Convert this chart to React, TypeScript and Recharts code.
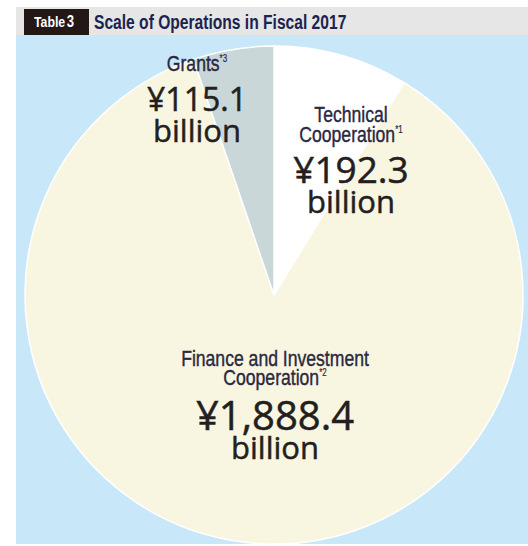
import { PieChart, Pie, Cell } from "recharts";

// values in billions of yen, clockwise from 12 o'clock
const names = ["Technical Cooperation", "Finance and Investment Cooperation", "Grants"];
const values = [192.3, 1888.4, 115.1];
const notes = ["*1", "*2", "*3"];
const amounts = ["¥192.3", "¥1,888.4", "¥115.1"];
const titleText = "Scale of Operations in Fiscal 2017";

const colors = ["#ffffff", "#f8f6e1", "#c9d7d8"];

const data = names.map((name, i) => ({ name, value: values[i], note: notes[i], amount: amounts[i] }));

// label layout, relative to the pie centre
const labelLayout: Record<string, { dx: number; lines: string[]; dy: number[]; size: number }> = {
  "Technical Cooperation": { dx: 77, lines: ["Technical", "Cooperation"], dy: [-173, -153, -112, -82], size: 37 },
  "Finance and Investment Cooperation": { dx: 1, lines: ["Finance and Investment", "Cooperation"], dy: [71, 90, 135, 164], size: 40 },
  Grants: { dx: -77, lines: ["Grants"], dy: [-224, -184, -153], size: 32 },
};

const labelFont = "'Liberation Sans', Arial, sans-serif";
const valueFont = "'Open Sans', 'Noto Sans', sans-serif";
const narrow = 0.8;

const renderLabel = (props: any) => {
  const { cx, cy, payload, name } = props;
  const key = payload?.name ?? name;
  const lay = labelLayout[key];
  if (!lay) return null;
  const x = cx + lay.dx;
  const n = lay.lines.length;
  return (
    <g>
      {lay.lines.map((ln, i) => (
        <text
          key={i}
          transform={`translate(${x} ${cy + lay.dy[i]}) scale(${narrow} 1)`}
          textAnchor="middle"
          fontFamily={labelFont}
          fontSize={22}
          fill="#2a2842"
          stroke="#2a2842"
          strokeWidth={0.4}
        >
          {ln}
          {i === n - 1 && (
            <tspan fontSize={10} dy={-9} strokeWidth={0.2}>
              {payload.note}
            </tspan>
          )}
        </text>
      ))}
      <text
        x={x}
        y={cy + lay.dy[n]}
        textAnchor="middle"
        fontFamily={valueFont}
        fontWeight={500}
        fontSize={lay.size}
        fill="#231f20"
        stroke="#231f20"
        strokeWidth={0.5}
      >
        {payload.amount}
      </text>
      <text
        x={x}
        y={cy + lay.dy[n + 1]}
        textAnchor="middle"
        fontFamily={valueFont}
        fontWeight={500}
        fontSize={31}
        fill="#231f20"
        stroke="#231f20"
        strokeWidth={0.5}
      >
        billion
      </text>
    </g>
  );
};

export default function App() {
  return (
    <div style={{ position: "absolute", left: 0, top: 0, width: 528, height: 546, background: "#ffffff" }}>
      <div style={{ position: "absolute", left: 16, top: 7, width: 512, height: 28, background: "#e6e6e6" }} />
      <div style={{ position: "absolute", left: 16, top: 35, width: 512, height: 509, background: "#c8e8fa" }} />
      <div
        style={{
          position: "absolute",
          left: 24,
          top: 9,
          width: 65,
          height: 26,
          background: "#231815",
        }}
      />
      <div
        style={{
          position: "absolute",
          left: 34,
          top: 9,
          height: 26,
          lineHeight: "26px",
          color: "#ffffff",
          fontFamily: labelFont,
          fontWeight: 700,
          fontSize: 15,
          whiteSpace: "nowrap",
          transform: "scaleX(0.82)",
          transformOrigin: "left center",
        }}
      >
        Table<span style={{ fontSize: 16, marginLeft: 2 }}>3</span>
      </div>
      <div
        style={{
          position: "absolute",
          left: 94,
          top: 8,
          height: 28,
          lineHeight: "28px",
          fontFamily: labelFont,
          fontWeight: 700,
          fontSize: 20,
          color: "#1d2350",
          whiteSpace: "nowrap",
          transform: "scaleX(0.78)",
          transformOrigin: "left center",
        }}
      >
        {titleText}
      </div>
      <div style={{ position: "absolute", left: 0, top: 0 }}>
        <PieChart width={528} height={546} margin={{ top: 0, right: 0, bottom: 0, left: 0 }}>
          <Pie
            data={data}
            dataKey="value"
            nameKey="name"
            cx={274}
            cy={295}
            outerRadius={249}
            startAngle={90}
            endAngle={-270}
            stroke="#ffffff"
            strokeWidth={1.5}
            label={renderLabel}
            labelLine={false}
            isAnimationActive={false}
          >
            {data.map((d, i) => (
              <Cell key={d.name} fill={colors[i]} />
            ))}
          </Pie>
        </PieChart>
      </div>
    </div>
  );
}
